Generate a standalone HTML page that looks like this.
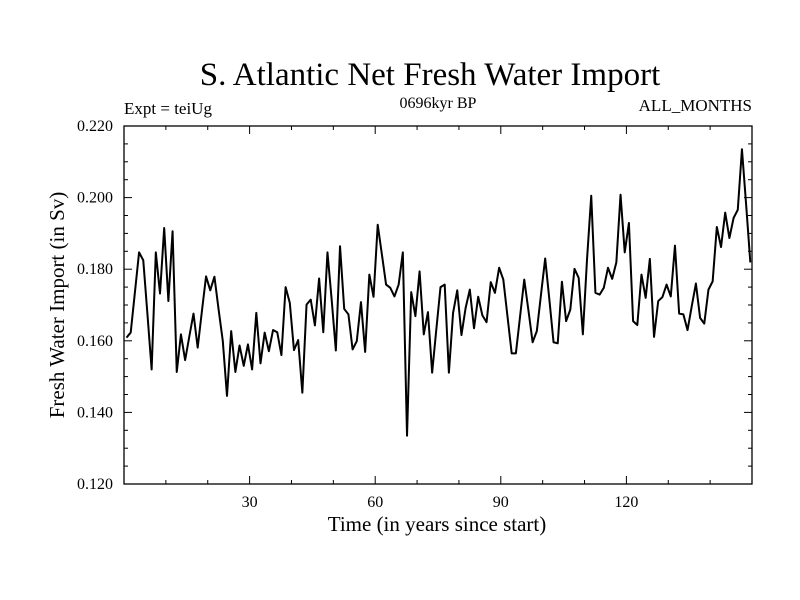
<!DOCTYPE html>
<html><head><meta charset="utf-8"><style>
html,body{margin:0;padding:0;background:#fff;}
svg{display:block;font-family:"Liberation Serif",serif;}
</style></head><body>
<svg id="chart" width="800" height="600" xmlns="http://www.w3.org/2000/svg">
<rect width="800" height="600" fill="#fff"/>
<text x="430" y="85" font-size="33" text-anchor="middle">S. Atlantic Net Fresh Water Import</text>
<text x="124" y="114" font-size="17">Expt = teiUg</text>
<text x="438" y="108" font-size="16" text-anchor="middle">0696kyr BP</text>
<text x="752" y="111" font-size="17" text-anchor="end">ALL_MONTHS</text>
<text x="437" y="531" font-size="21" text-anchor="middle">Time (in years since start)</text>
<text transform="translate(64,305) rotate(-90)" font-size="21" text-anchor="middle">Fresh Water Import (in Sv)</text>
<g id="axes"></g>
<path id="series" fill="none" stroke="#000" stroke-width="2" stroke-linejoin="round"/>
</svg>
<script>
const values = [
0.1609,0.1623,0.1735,0.1847,0.1825,0.1674,0.1520,0.1847,0.1732,0.1915,
0.1711,0.1906,0.1513,0.1618,0.1546,0.1612,0.1676,0.1581,0.1682,0.1780,
0.1741,0.1779,0.1687,0.1599,0.1446,0.1627,0.1513,0.1587,0.1530,0.1590,
0.1520,0.1678,0.1537,0.1623,0.1571,0.1630,0.1624,0.1560,0.1750,0.1706,
0.1574,0.1602,0.1455,0.1701,0.1715,0.1643,0.1774,0.1624,0.1847,0.1715,
0.1573,0.1864,0.1689,0.1674,0.1576,0.1599,0.1708,0.1569,0.1785,0.1723,
0.1924,0.1841,0.1757,0.1748,0.1724,0.1757,0.1847,0.1335,0.1736,0.1669,
0.1794,0.1618,0.1680,0.1511,0.1632,0.1750,0.1757,0.1511,0.1678,0.1741,
0.1616,0.1692,0.1743,0.1635,0.1723,0.1671,0.1652,0.1764,0.1734,0.1804,
0.1771,0.1668,0.1565,0.1565,0.1668,0.1771,0.1685,0.1596,0.1627,0.1729,
0.1830,0.1715,0.1596,0.1593,0.1765,0.1655,0.1687,0.1801,0.1776,0.1618,
0.1829,0.2005,0.1734,0.1729,0.1748,0.1804,0.1773,0.1819,0.2008,0.1847,
0.1929,0.1655,0.1644,0.1785,0.1720,0.1829,0.1611,0.1711,0.1722,0.1757,
0.1724,0.1866,0.1676,0.1674,0.1630,0.1696,0.1760,0.1664,0.1648,0.1743,
0.1766,0.1918,0.1862,0.1958,0.1887,0.1943,0.1966,0.2135,0.1980,0.1819];
const years = values.map((v,i)=>i+1);
const xTicks = [30,60,90,120];
const yTicks = [0.120,0.140,0.160,0.180,0.200,0.220];
const yLabels = ["0.120","0.140","0.160","0.180","0.200","0.220"];

const X0=124, X1=752, Y0=126, Y1=484;
const xMin=0, xMax=150, yMin=0.12, yMax=0.22;
const xScale = v => X0 + (v - xMin)/(xMax - xMin)*(X1 - X0);
const yScale = v => Y1 - (v - yMin)/(yMax - yMin)*(Y1 - Y0);
const NS="http://www.w3.org/2000/svg";
const axes=document.getElementById('axes');
function mk(tag, attrs){const e=document.createElementNS(NS,tag);for(const k in attrs)e.setAttribute(k,attrs[k]);axes.appendChild(e);return e;}

const frame=mk('rect',{x:X0,y:Y0,width:X1-X0,height:Y1-Y0,fill:'none',stroke:'#000','stroke-width':1.3});



for(let t=10;t<150;t+=10){
  const x=xScale(t), len=(t%30===0)?8:4;
  const a=mk('line',{x1:x,y1:Y1,x2:x,y2:Y1-len,stroke:'#000','stroke-width':1});
  
  
  const b=mk('line',{x1:x,y1:Y0,x2:x,y2:Y0+len,stroke:'#000','stroke-width':1});
  
  
}
xTicks.forEach(t=>{
  const tx=mk('text',{x:xScale(t),y:507,'font-size':16,'text-anchor':'middle'});
  tx.textContent=t;
  
  
});
for(let k=1;k<20;k++){
  const v=yMin+k*0.005, y=yScale(v), len=(k%4===0)?8:4;
  const a=mk('line',{x1:X0,y1:y,x2:X0+len,y2:y,stroke:'#000','stroke-width':1});
  
  
  const b=mk('line',{x1:X1,y1:y,x2:X1-len,y2:y,stroke:'#000','stroke-width':1});
  
  
}
yTicks.forEach((v,i)=>{
  const tx=mk('text',{x:113,y:yScale(v)+5,'font-size':16,'text-anchor':'end'});
  tx.textContent=yLabels[i];
  
  
});

let d='';
values.forEach((v,i)=>{d+=(i?'L':'M')+xScale(years[i]-0.4).toFixed(2)+','+yScale(v).toFixed(2);});
document.getElementById('series').setAttribute('d',d);
</script>
</body></html>
